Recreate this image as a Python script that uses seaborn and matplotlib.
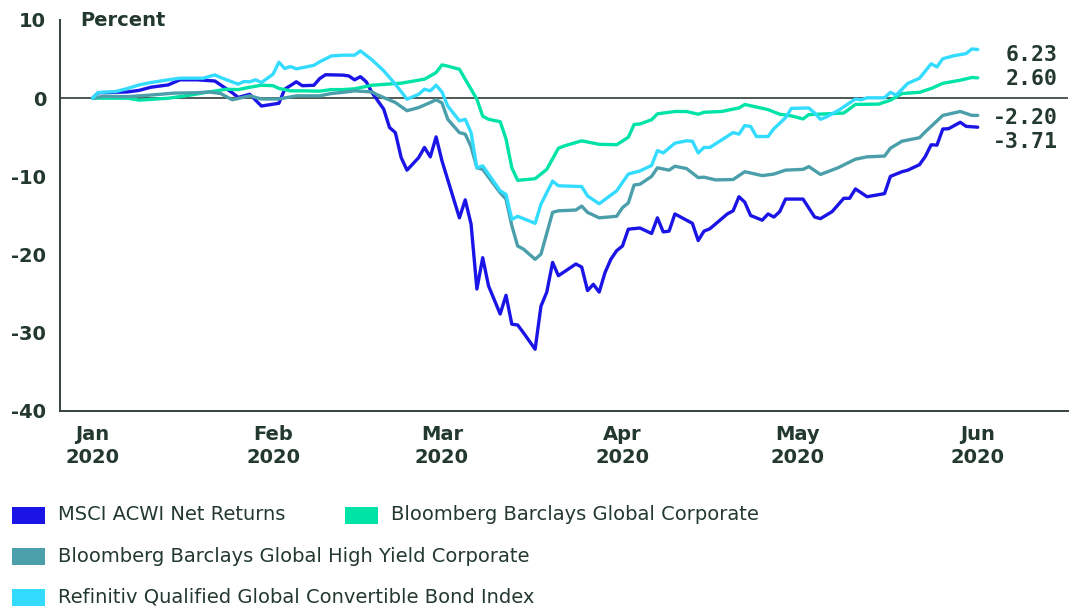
import matplotlib
matplotlib.use("Agg")
import matplotlib.pyplot as plt
import matplotlib.dates as mdates
from matplotlib.patches import Rectangle
import pandas as pd
import seaborn as sns

# ---- data: cumulative total return since 31 Dec 2019, percent ----
series_names = [
    "MSCI ACWI Net Returns",
    "Bloomberg Barclays Global Corporate",
    "Bloomberg Barclays Global High Yield Corporate",
    "Refinitiv Qualified Global Convertible Bond Index",
]

msci_dates = [
    "2020-01-01", "2020-01-02", "2020-01-07", "2020-01-09", "2020-01-11", "2020-01-14",
    "2020-01-16", "2020-01-19", "2020-01-22", "2020-01-25", "2020-01-26", "2020-01-28",
    "2020-01-30", "2020-02-02", "2020-02-03", "2020-02-05", "2020-02-06", "2020-02-08",
    "2020-02-09", "2020-02-10", "2020-02-13", "2020-02-14", "2020-02-15", "2020-02-16",
    "2020-02-17", "2020-02-18", "2020-02-19", "2020-02-20", "2020-02-21", "2020-02-22",
    "2020-02-23", "2020-02-24", "2020-02-26", "2020-02-27", "2020-02-28", "2020-02-29",
    "2020-03-01", "2020-03-04", "2020-03-05", "2020-03-06", "2020-03-07", "2020-03-08",
    "2020-03-09", "2020-03-11", "2020-03-12", "2020-03-13", "2020-03-14", "2020-03-15",
    "2020-03-17", "2020-03-18", "2020-03-19", "2020-03-20", "2020-03-21", "2020-03-24",
    "2020-03-25", "2020-03-26", "2020-03-27", "2020-03-28", "2020-03-29", "2020-03-30",
    "2020-03-31", "2020-04-01", "2020-04-02", "2020-04-04", "2020-04-06", "2020-04-07",
    "2020-04-08", "2020-04-09", "2020-04-10", "2020-04-12", "2020-04-13", "2020-04-14",
    "2020-04-15", "2020-04-16", "2020-04-19", "2020-04-20", "2020-04-21", "2020-04-22",
    "2020-04-23", "2020-04-25", "2020-04-26", "2020-04-27", "2020-04-28", "2020-04-29",
    "2020-05-02", "2020-05-04", "2020-05-05", "2020-05-07", "2020-05-09", "2020-05-10",
    "2020-05-11", "2020-05-13", "2020-05-16", "2020-05-17", "2020-05-19", "2020-05-20",
    "2020-05-22", "2020-05-23", "2020-05-24", "2020-05-25", "2020-05-26", "2020-05-27",
    "2020-05-29", "2020-05-30", "2020-06-01",
]
msci_values = [
    0.0, 0.7, 0.8, 1.0, 1.4, 1.7,
    2.35, 2.35, 2.2, 0.7, 0.1, 0.5,
    -1.0, -0.65, 1.15, 2.1, 1.6, 1.65,
    2.5, 3.0, 2.95, 2.85, 2.35, 2.75,
    2.1, 0.7, -0.35, -1.4, -3.75, -4.4,
    -7.6, -9.2, -7.6, -6.3, -7.5, -4.95,
    -8.0, -15.3, -13.0, -16.1, -24.4, -20.4,
    -24.0, -27.6, -25.2, -28.9, -29.0, -30.0,
    -32.1, -26.6, -24.8, -21.0, -22.7, -21.2,
    -21.6, -24.6, -23.8, -24.8, -22.3, -20.6,
    -19.5, -18.9, -16.75, -16.6, -17.3, -15.3,
    -17.1, -17.0, -14.8, -15.6, -16.0, -18.2,
    -17.0, -16.7, -14.8, -14.4, -12.6, -13.3,
    -15.0, -15.6, -14.8, -15.2, -14.5, -12.9,
    -12.9, -15.2, -15.4, -14.5, -12.8, -12.8,
    -11.6, -12.6, -12.2, -10.0, -9.4, -9.2,
    -8.5, -7.45, -5.96, -6.0, -3.94, -3.9,
    -3.08, -3.6, -3.71,
]

corp_dates = [
    "2020-01-01", "2020-01-07", "2020-01-09", "2020-01-14", "2020-01-17", "2020-01-21",
    "2020-01-24", "2020-01-26", "2020-01-28", "2020-01-30", "2020-02-01", "2020-02-02",
    "2020-02-04", "2020-02-06", "2020-02-09", "2020-02-11", "2020-02-13", "2020-02-15",
    "2020-02-18", "2020-02-23", "2020-02-27", "2020-02-28", "2020-02-29", "2020-03-01",
    "2020-03-02", "2020-03-04", "2020-03-06", "2020-03-07", "2020-03-08", "2020-03-09",
    "2020-03-11", "2020-03-12", "2020-03-13", "2020-03-14", "2020-03-17", "2020-03-19",
    "2020-03-21", "2020-03-22", "2020-03-25", "2020-03-28", "2020-03-31", "2020-04-02",
    "2020-04-03", "2020-04-04", "2020-04-06", "2020-04-07", "2020-04-10", "2020-04-12",
    "2020-04-14", "2020-04-15", "2020-04-18", "2020-04-21", "2020-04-22", "2020-04-26",
    "2020-04-28", "2020-04-30", "2020-05-02", "2020-05-03", "2020-05-06", "2020-05-09",
    "2020-05-11", "2020-05-15", "2020-05-17", "2020-05-19", "2020-05-22", "2020-05-24",
    "2020-05-26", "2020-05-29", "2020-05-31", "2020-06-01",
]
corp_values = [
    0.0, 0.0, -0.25, 0.0, 0.3, 0.8,
    1.15, 1.1, 1.4, 1.66, 1.6, 1.25,
    0.94, 0.94, 0.9, 1.1, 1.1, 1.2,
    1.66, 1.92, 2.43, 2.85, 3.28, 4.26,
    4.1, 3.7, 1.15, -0.13, -2.3, -2.7,
    -3.0, -5.2, -8.9, -10.5, -10.3, -9.1,
    -6.4, -6.1, -5.45, -5.9, -5.95, -5.0,
    -3.35, -3.3, -2.75, -2.0, -1.7, -1.7,
    -2.05, -1.8, -1.7, -1.25, -0.8, -1.46,
    -2.05, -2.26, -2.65, -2.1, -2.0, -1.9,
    -0.8, -0.75, -0.26, 0.6, 0.75, 1.24,
    1.9, 2.3, 2.65, 2.60,
]

hy_dates = [
    "2020-01-01", "2020-01-03", "2020-01-07", "2020-01-11", "2020-01-15", "2020-01-19",
    "2020-01-21", "2020-01-23", "2020-01-25", "2020-01-28", "2020-01-30", "2020-02-02",
    "2020-02-05", "2020-02-09", "2020-02-11", "2020-02-13", "2020-02-15", "2020-02-18",
    "2020-02-19", "2020-02-22", "2020-02-24", "2020-02-26", "2020-02-28", "2020-02-29",
    "2020-03-01", "2020-03-02", "2020-03-04", "2020-03-05", "2020-03-06", "2020-03-07",
    "2020-03-08", "2020-03-11", "2020-03-12", "2020-03-13", "2020-03-14", "2020-03-15",
    "2020-03-17", "2020-03-18", "2020-03-20", "2020-03-21", "2020-03-24", "2020-03-25",
    "2020-03-26", "2020-03-28", "2020-03-31", "2020-04-01", "2020-04-02", "2020-04-03",
    "2020-04-04", "2020-04-06", "2020-04-07", "2020-04-09", "2020-04-10", "2020-04-12",
    "2020-04-14", "2020-04-15", "2020-04-17", "2020-04-20", "2020-04-22", "2020-04-25",
    "2020-04-27", "2020-04-29", "2020-05-02", "2020-05-03", "2020-05-05", "2020-05-08",
    "2020-05-11", "2020-05-13", "2020-05-16", "2020-05-17", "2020-05-19", "2020-05-22",
    "2020-05-23", "2020-05-24", "2020-05-26", "2020-05-29", "2020-05-31", "2020-06-01",
]
hy_values = [
    0.0, 0.25, 0.2, 0.4, 0.65, 0.7,
    0.8, 0.6, -0.2, 0.3, -0.1, -0.1,
    0.3, 0.3, 0.6, 0.75, 0.94, 0.8,
    0.4, -0.55, -1.6, -1.2, -0.55, -0.2,
    -0.6, -2.7, -4.4, -4.6, -6.2, -8.9,
    -9.1, -12.1, -12.9, -16.3, -18.9, -19.3,
    -20.6, -19.95, -14.6, -14.4, -14.3, -13.8,
    -14.6, -15.3, -15.1, -14.0, -13.4, -11.1,
    -11.0, -10.0, -8.9, -9.2, -8.7, -9.0,
    -10.15, -10.1, -10.45, -10.4, -9.4, -9.9,
    -9.7, -9.2, -9.1, -8.75, -9.75, -8.9,
    -7.8, -7.5, -7.4, -6.4, -5.5, -5.05,
    -4.3, -3.6, -2.2, -1.7, -2.2, -2.20,
]

conv_dates = [
    "2020-01-01", "2020-01-02", "2020-01-05", "2020-01-07", "2020-01-09", "2020-01-11",
    "2020-01-14", "2020-01-16", "2020-01-20", "2020-01-22", "2020-01-23", "2020-01-26",
    "2020-01-27", "2020-01-28", "2020-01-29", "2020-01-30", "2020-02-01", "2020-02-02",
    "2020-02-03", "2020-02-04", "2020-02-05", "2020-02-08", "2020-02-09", "2020-02-11",
    "2020-02-13", "2020-02-15", "2020-02-16", "2020-02-18", "2020-02-20", "2020-02-22",
    "2020-02-24", "2020-02-26", "2020-02-27", "2020-02-28", "2020-02-29", "2020-03-01",
    "2020-03-02", "2020-03-04", "2020-03-05", "2020-03-06", "2020-03-07", "2020-03-08",
    "2020-03-11", "2020-03-12", "2020-03-13", "2020-03-14", "2020-03-17", "2020-03-18",
    "2020-03-20", "2020-03-21", "2020-03-25", "2020-03-26", "2020-03-28", "2020-03-31",
    "2020-04-02", "2020-04-04", "2020-04-06", "2020-04-07", "2020-04-08", "2020-04-10",
    "2020-04-12", "2020-04-13", "2020-04-14", "2020-04-15", "2020-04-16", "2020-04-20",
    "2020-04-21", "2020-04-22", "2020-04-23", "2020-04-24", "2020-04-26", "2020-04-27",
    "2020-04-29", "2020-04-30", "2020-05-03", "2020-05-04", "2020-05-05", "2020-05-06",
    "2020-05-08", "2020-05-11", "2020-05-12", "2020-05-13", "2020-05-16", "2020-05-17",
    "2020-05-18", "2020-05-20", "2020-05-22", "2020-05-24", "2020-05-25", "2020-05-26",
    "2020-05-28", "2020-05-30", "2020-05-31", "2020-06-01",
]
conv_values = [
    0.0, 0.73, 0.85, 1.24, 1.7, 2.0,
    2.35, 2.56, 2.56, 2.98, 2.64, 1.8,
    2.13, 2.1, 2.35, 2.0, 3.07, 4.6,
    3.8, 4.05, 3.75, 4.2, 4.65, 5.4,
    5.5, 5.5, 6.05, 4.9, 3.5, 1.8,
    -0.13, 0.5, 1.15, 0.94, 1.66, 0.8,
    -1.0, -2.9, -2.7, -4.4, -8.9, -8.65,
    -11.85, -12.3, -15.5, -15.1, -16.0, -13.55,
    -10.6, -11.2, -11.3, -12.5, -13.5, -11.85,
    -9.7, -9.3, -8.6, -6.7, -7.0, -5.75,
    -5.45, -5.5, -7.0, -6.3, -6.3, -4.4,
    -4.6, -3.5, -3.6, -4.9, -4.9, -3.9,
    -2.5, -1.3, -1.25, -1.9, -2.7, -2.4,
    -1.6, -0.1, -0.2, 0.05, 0.05, 0.75,
    0.4, 1.9, 2.55, 4.4, 4.0, 5.05,
    5.45, 5.7, 6.3, 6.23,
]

end_labels = ["6.23", "2.60", "-2.20", "-3.71"]

# ---- styling ----
colors = ["#1a14e6", "#00e3a7", "#4a9faa", "#33dcff"]
TEXT = "#23392e"
AXIS = "#34443b"

frames = []
for name, d, v in zip(series_names,
                      [msci_dates, corp_dates, hy_dates, conv_dates],
                      [msci_values, corp_values, hy_values, conv_values]):
    frames.append(pd.DataFrame({"date": pd.to_datetime(d), "value": v, "series": name}))
df = pd.concat(frames, ignore_index=True)

sns.set_theme(style="white")
plt.rcParams["font.family"] = ["DejaVu Sans"]
plt.rcParams["axes.unicode_minus"] = False

W, H = 1072, 607
fig = plt.figure(figsize=(W / 100, H / 100), dpi=100)
fig.patch.set_facecolor("white")


def fx(px):
    return px / W


def fy(py):
    return 1 - py / H


ax = fig.add_axes([fx(60), fy(411), fx(1068) - fx(60), fy(20) - fy(411)])
ax.set_facecolor("white")

ax.axhline(0, color="#4d5852", lw=1.4, zorder=1)

sns.lineplot(data=df, x="date", y="value", hue="series", hue_order=series_names,
             palette=dict(zip(series_names, colors)), linewidth=2.4,
             legend=False, ax=ax, zorder=3)

ax.set_xlim(pd.Timestamp("2019-12-26 10:00"), pd.Timestamp("2020-06-16 12:00"))
ax.set_ylim(-40, 10)
ax.set_yticks([-40, -30, -20, -10, 0, 10])
ax.xaxis.set_major_locator(mdates.MonthLocator())
ax.xaxis.set_major_formatter(mdates.DateFormatter("%b\n%Y"))
ax.set_xlabel("")
ax.set_ylabel("")

for side in ("top", "right"):
    ax.spines[side].set_visible(False)
for side in ("left", "bottom"):
    ax.spines[side].set_color(AXIS)
    ax.spines[side].set_linewidth(1.4)

ax.tick_params(axis="both", direction="in", length=6, width=1.2, color=AXIS,
               labelcolor=TEXT, labelsize=14)
ax.tick_params(axis="y", pad=10)
ax.tick_params(axis="x", pad=10)
for lab in ax.get_yticklabels() + ax.get_xticklabels():
    lab.set_fontweight("bold")
for lab in ax.get_xticklabels():
    lab.set_linespacing(1.25)

# unit label next to the top tick
fig.text(fx(80), fy(20), "Percent", fontsize=14, fontweight="bold", color=TEXT,
         ha="left", va="center")

# final values at the right end of the lines
label_baseline_y = [4.73, 1.66, -3.32, -6.39]
for txt, yv in zip(end_labels, label_baseline_y):
    ax.text(0.990, yv, txt, transform=ax.get_yaxis_transform(), ha="right",
            va="baseline", fontsize=15.5, fontweight="bold", color=TEXT,
            family=["DejaVu Sans Mono"])

# legend rows below the plot
legend_pos = [(12, 515), (345, 515), (12, 556), (12, 597)]
for (px, py), name, col in zip(legend_pos, series_names, colors):
    fig.add_artist(Rectangle((fx(px), fy(py + 8.5)), fx(33), 17 / H,
                             transform=fig.transFigure, facecolor=col,
                             edgecolor="none"))
    fig.text(fx(px + 46), fy(py), name, fontsize=14, color=TEXT,
             ha="left", va="center")

fig.savefig("out.png", dpi=100, facecolor="white")
